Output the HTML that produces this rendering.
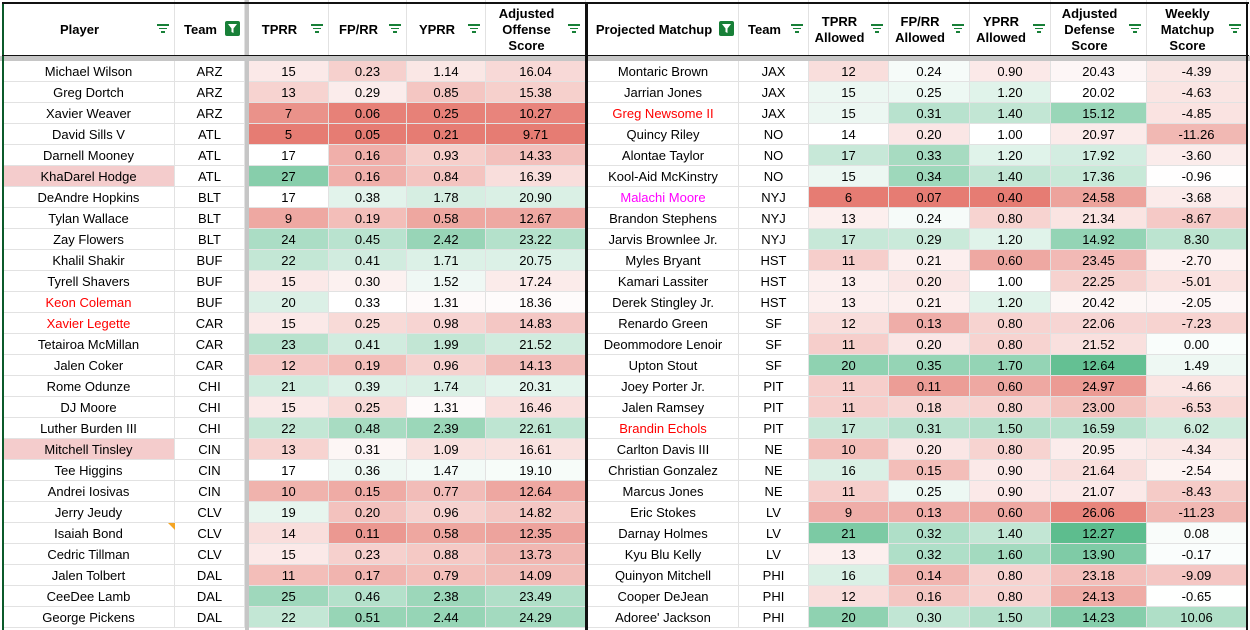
<!DOCTYPE html>
<html><head><meta charset="utf-8">
<style>
body{margin:0;width:1250px;height:630px;overflow:hidden;background:#fff;font-family:"Liberation Sans",Arial,sans-serif;font-size:13px;color:#000;position:relative}
.c{position:absolute;box-sizing:border-box;border-right:1px solid #e2e2e2;border-bottom:1px solid #e2e2e2;display:flex;align-items:center;justify-content:center;white-space:nowrap}
.h{font-weight:bold;line-height:16px;text-align:center;justify-content:center}
.ln{position:absolute;background:#111}
.fi{position:absolute;width:12px;height:9px}
.fi i{position:absolute;height:1.5px;background:#188038;left:0}
.fb{position:absolute;width:15px;height:15px;background:#188038;border-radius:2px}
</style></head><body>
<div id="root"></div>
<script>
const L=[
["Michael Wilson","ARZ",15,.23,1.14,16.04],["Greg Dortch","ARZ",13,.29,.85,15.38],["Xavier Weaver","ARZ",7,.06,.25,10.27],["David Sills V","ATL",5,.05,.21,9.71],["Darnell Mooney","ATL",17,.16,.93,14.33],["KhaDarel Hodge","ATL",27,.16,.84,16.39],["DeAndre Hopkins","BLT",17,.38,1.78,20.90],["Tylan Wallace","BLT",9,.19,.58,12.67],["Zay Flowers","BLT",24,.45,2.42,23.22],["Khalil Shakir","BUF",22,.41,1.71,20.75],["Tyrell Shavers","BUF",15,.30,1.52,17.24],["Keon Coleman","BUF",20,.33,1.31,18.36],["Xavier Legette","CAR",15,.25,.98,14.83],["Tetairoa McMillan","CAR",23,.41,1.99,21.52],["Jalen Coker","CAR",12,.19,.96,14.13],["Rome Odunze","CHI",21,.39,1.74,20.31],["DJ Moore","CHI",15,.25,1.31,16.46],["Luther Burden III","CHI",22,.48,2.39,22.61],["Mitchell Tinsley","CIN",13,.31,1.09,16.61],["Tee Higgins","CIN",17,.36,1.47,19.10],["Andrei Iosivas","CIN",10,.15,.77,12.64],["Jerry Jeudy","CLV",19,.20,.96,14.82],["Isaiah Bond","CLV",14,.11,.58,12.35],["Cedric Tillman","CLV",15,.23,.88,13.73],["Jalen Tolbert","DAL",11,.17,.79,14.09],["CeeDee Lamb","DAL",25,.46,2.38,23.49],["George Pickens","DAL",22,.51,2.44,24.29]];
const R=[
["Montaric Brown","JAX",12,.24,.90,20.43,-4.39],["Jarrian Jones","JAX",15,.25,1.20,20.02,-4.63],["Greg Newsome II","JAX",15,.31,1.40,15.12,-4.85],["Quincy Riley","NO",14,.20,1.00,20.97,-11.26],["Alontae Taylor","NO",17,.33,1.20,17.92,-3.60],["Kool-Aid McKinstry","NO",15,.34,1.40,17.36,-0.96],["Malachi Moore","NYJ",6,.07,.40,24.58,-3.68],["Brandon Stephens","NYJ",13,.24,.80,21.34,-8.67],["Jarvis Brownlee Jr.","NYJ",17,.29,1.20,14.92,8.30],["Myles Bryant","HST",11,.21,.60,23.45,-2.70],["Kamari Lassiter","HST",13,.20,1.00,22.25,-5.01],["Derek Stingley Jr.","HST",13,.21,1.20,20.42,-2.05],["Renardo Green","SF",12,.13,.80,22.06,-7.23],["Deommodore Lenoir","SF",11,.20,.80,21.52,0.00],["Upton Stout","SF",20,.35,1.70,12.64,1.49],["Joey Porter Jr.","PIT",11,.11,.60,24.97,-4.66],["Jalen Ramsey","PIT",11,.18,.80,23.00,-6.53],["Brandin Echols","PIT",17,.31,1.50,16.59,6.02],["Carlton Davis III","NE",10,.20,.80,20.95,-4.34],["Christian Gonzalez","NE",16,.15,.90,21.64,-2.54],["Marcus Jones","NE",11,.25,.90,21.07,-8.43],["Eric Stokes","LV",9,.13,.60,26.06,-11.23],["Darnay Holmes","LV",21,.32,1.40,12.27,0.08],["Kyu Blu Kelly","LV",13,.32,1.60,13.90,-0.17],["Quinyon Mitchell","PHI",16,.14,.80,23.18,-9.09],["Cooper DeJean","PHI",12,.16,.80,24.13,-0.65],["Adoree' Jackson","PHI",20,.30,1.50,14.23,10.06]];
const RED=[230,124,115],WH=[255,255,255],GR=[87,187,138];
function mix(a,b,t){t=Math.max(0,Math.min(1,t));return `rgb(${a.map((v,i)=>Math.round(v+(b[i]-v)*t)).join(',')})`}
function col(v,mn,md,mx){return v<=md?mix(RED,WH,(v-mn)/(md-mn)):mix(WH,GR,(v-md)/(mx-md))}
const lc=[[3,175],[175,245],[249,329],[329,407],[407,486],[486,586]];
const rc=[[588,739],[739,809],[809,889],[889,970],[970,1051],[1051,1147],[1147,1247]];
const ls=[null,null,[5,17,31],[.05,.33,.62],[.21,1.35,3.1],[9.71,18.6,29]];
const rs=[null,null,[6,14,23],[.07,.23,.42],[.4,1.0,2.1],null,[-20,-0.8,22]];
let h='';
function cell(x0,x1,y,hgt,txt,st,cls){h+=`<div class="c ${cls||''}" style="left:${x0}px;top:${y}px;width:${x1-x0}px;height:${hgt}px;${st||''}">${txt}</div>`}
// top strip
lc.concat(rc).forEach(c=>cell(c[0],c[1],-18,21,''));
// headers
const lh=["Player","Team","TPRR","FP/RR","YPRR","Adjusted<br>Offense<br>Score"];
const rh=["Projected Matchup","Team","TPRR<br>Allowed","FP/RR<br>Allowed","YPRR<br>Allowed","Adjusted<br>Defense<br>Score","Weekly<br>Matchup<br>Score"];
function hdr(cols,hs,box){cols.forEach((c,i)=>{const w=c[1]-c[0];cell(c[0],c[1],3,54,hs[i],'padding-right:18px;','h');
 const top=24;
 if(i===box){h+=`<div class="fb" style="left:${c[1]-20}px;top:${top-3}px"><svg width="15" height="15"><path d="M3 3h9l-3.5 4.5v4.5l-2-1v-3.5z" fill="#fff"/></svg></div>`}
 else h+=`<div class="fi" style="left:${c[1]-18}px;top:${top}px"><i style="width:12px;top:0"></i><i style="width:8px;left:2px;top:3.5px"></i><i style="width:4px;left:4px;top:7px"></i></div>`;});}
hdr(lc,lh,1);hdr(rc,rh,0);
// gray band
h+=`<div style="position:absolute;left:0;top:56px;width:1250px;height:5px;background:#c6c6c6"></div>`;
h+=`<div style="position:absolute;left:245px;top:0;width:4px;height:630px;background:#c6c6c6"></div>`;
const f=(v,i)=>i===2?v:v.toFixed(2);
L.forEach((r,k)=>{const y=61+21*k;
 lc.forEach((c,i)=>{let st='',t=i<2?r[i]:f(r[i],i);
  if(i>=2)st=`background:${col(r[i],...ls[i])};`;
  if(i===0&&(r[0]=="KhaDarel Hodge"||r[0]=="Mitchell Tinsley"))st='background:#f4cccc;';
  if(i===0&&(r[0]=="Keon Coleman"||r[0]=="Xavier Legette"))st='color:#f00;';
  cell(c[0],c[1],y,21,t,st);});});
R.forEach((r,k)=>{const y=61+21*k;
 rc.forEach((c,i)=>{let st='',t=i<2?r[i]:f(r[i],i);
  if(i>=2&&i!==5)st=`background:${col(r[i],...rs[i])};`;
  if(i===5)st=`background:${col(-r[i],-26.5,-20.0,-12.0)};`;
  if(i===0&&(r[0]=="Greg Newsome II"||r[0]=="Brandin Echols"))st='color:#f00;';
  if(i===0&&r[0]=="Malachi Moore")st='color:#f0f;';
  cell(c[0],c[1],y,21,t,st);});});
// borders
h+=`<div class="ln" style="left:2px;top:3px;width:2px;height:627px;background:#0b5a2a"></div>`;
h+=`<div class="ln" style="left:2px;top:2px;width:585px;height:2px"></div>`;
h+=`<div class="ln" style="left:2px;top:55px;width:585px;height:1px"></div>`;
h+=`<div class="ln" style="left:585px;top:2px;width:3px;height:628px"></div>`;
h+=`<div class="ln" style="left:586px;top:2px;width:663px;height:2px"></div>`;
h+=`<div class="ln" style="left:586px;top:55px;width:663px;height:1px"></div>`;
h+=`<div class="ln" style="left:1246px;top:2px;width:2px;height:628px"></div>`;
h+=`<div style="position:absolute;left:168px;top:523px;width:0;height:0;border-top:7px solid #f4a524;border-left:7px solid transparent"></div>`;
document.getElementById('root').innerHTML=h;
</script>
</body></html>
